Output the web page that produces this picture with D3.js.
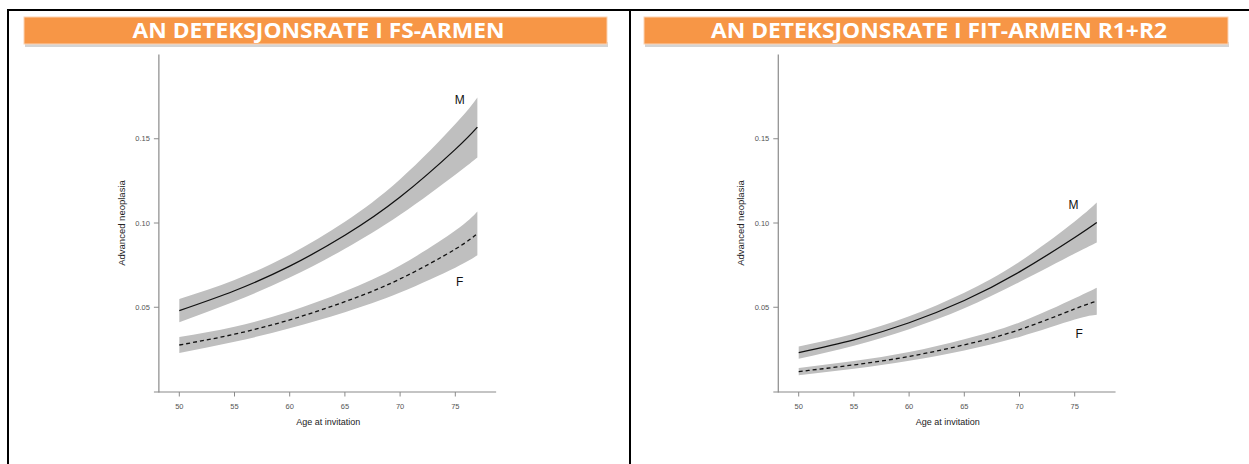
<!DOCTYPE html>
<html>
<head>
<meta charset="utf-8">
<script src="https://cdn.jsdelivr.net/npm/d3@7"></script>
<style>
  body { margin: 0; background: #fff; }
  svg { display: block; }
</style>
</head>
<body>
<script>
const WIDTH = 1249;
const HEIGHT = 464;

// ages
const ages = [50, 55, 60, 65, 70, 75, 77];
const xTicks = [50, 55, 60, 65, 70, 75];
const yTicks = [0.05, 0.10, 0.15];

// FS arm
const fsMale   = [0.0480, 0.0598, 0.0744, 0.0927, 0.1154, 0.1437, 0.1569];
const fsMaleLo = [0.0411, 0.0534, 0.0676, 0.0847, 0.1049, 0.1287, 0.1389];
const fsMaleHi = [0.0549, 0.0662, 0.0812, 0.1007, 0.1259, 0.1587, 0.1745];
const fsFem    = [0.0276, 0.0340, 0.0425, 0.0533, 0.0668, 0.0845, 0.0938];
const fsFemLo  = [0.0229, 0.0295, 0.0375, 0.0471, 0.0588, 0.0735, 0.0808];
const fsFemHi  = [0.0323, 0.0385, 0.0475, 0.0595, 0.0748, 0.0955, 0.1068];

// FIT arm R1+R2
const fitMale   = [0.0231, 0.0307, 0.0408, 0.0540, 0.0710, 0.0914, 0.1003];
const fitMaleLo = [0.0195, 0.0272, 0.0370, 0.0494, 0.0650, 0.0819, 0.0885];
const fitMaleHi = [0.0267, 0.0342, 0.0446, 0.0586, 0.0770, 0.1009, 0.1121];
const fitFem    = [0.0118, 0.0158, 0.0208, 0.0277, 0.0367, 0.0490, 0.0536];
const fitFemLo  = [0.0096, 0.0135, 0.0182, 0.0244, 0.0324, 0.0427, 0.0456];
const fitFemHi  = [0.0140, 0.0181, 0.0234, 0.0310, 0.0410, 0.0553, 0.0616];

const titles = ['AN DETEKSJONSRATE I FS-ARMEN', 'AN DETEKSJONSRATE I FIT-ARMEN R1+R2'];
// label anchors [age, value] for M and F
const fsLabels  = [[75.4, 0.173], [75.4, 0.065]];
const fitLabels = [[74.9, 0.111], [75.4, 0.0343]];

const svg = d3.select('body')
  .append('svg')
  .attr('width', WIDTH)
  .attr('height', HEIGHT);

// table lines
svg.append('line').attr('x1', 8).attr('x2', WIDTH).attr('y1', 10).attr('y2', 10)
  .attr('stroke', '#000').attr('stroke-width', 2);
svg.append('line').attr('x1', 8).attr('x2', 8).attr('y1', 9).attr('y2', HEIGHT)
  .attr('stroke', '#000').attr('stroke-width', 2);
svg.append('line').attr('x1', 630).attr('x2', 630).attr('y1', 9).attr('y2', HEIGHT)
  .attr('stroke', '#000').attr('stroke-width', 2);

function banner(x0, x1, title, textW) {
  let g = svg.append('g');
  g.append('rect').attr('x', x0 + 1).attr('y', 42).attr('width', x1 - x0).attr('height', 5)
    .attr('fill', '#d4d4d4');
  g.append('rect').attr('x', x0).attr('y', 17).attr('width', x1 - x0).attr('height', 27)
    .attr('fill', '#f79646').attr('stroke', '#fbd3b4').attr('stroke-width', 1);
  g.append('text')
    .attr('x', (x0 + x1) / 2 + 3)
    .attr('y', 38)
    .attr('text-anchor', 'middle')
    .attr('font-family', '"Open Sans", Lato, sans-serif')
    .attr('font-weight', 'bold')
    .attr('font-size', '21px')
    .attr('fill', '#fff')
    .attr('textLength', textW)
    .attr('lengthAdjust', 'spacingAndGlyphs')
    .text(title);
}

banner(24, 607, titles[0], 372);
banner(644, 1228, titles[1], 456);

function panel(x50, male, maleLo, maleHi, fem, femLo, femHi, labels) {
  let xScale = d3.scaleLinear().domain([50, 75]).range([x50, x50 + 276]);
  let yScale = d3.scaleLinear().domain([0, 0.2]).range([391.5, 54.5]);
  let g = svg.append('g');
  const axisCol = '#8a8a8a';
  const font = '"Liberation Sans", Arial, sans-serif';

  let area = d3.area()
    .x((d) => xScale(d.age))
    .y0((d) => yScale(d.lo))
    .y1((d) => yScale(d.hi))
    .curve(d3.curveNatural);
  let line = d3.line()
    .x((d) => xScale(d.age))
    .y((d) => yScale(d.v))
    .curve(d3.curveNatural);

  let series = [
    { v: male, lo: maleLo, hi: maleHi, dash: null },
    { v: fem, lo: femLo, hi: femHi, dash: '4,3' }
  ];
  series.forEach((s) => {
    let rows = ages.map((a, i) => ({ age: a, v: s.v[i], lo: s.lo[i], hi: s.hi[i] }));
    g.append('path').datum(rows).attr('d', area).attr('fill', '#bfbfbf');
    g.append('path').datum(rows).attr('d', line)
      .attr('fill', 'none').attr('stroke', '#111').attr('stroke-width', 1.3)
      .attr('stroke-dasharray', s.dash);
  });

  // axes (R style)
  let yAxisX = xScale(48.15);
  g.append('line').attr('x1', yAxisX).attr('x2', yAxisX)
    .attr('y1', yScale(0.2)).attr('y2', yScale(0) + 1)
    .attr('stroke', axisCol).attr('stroke-width', 1.2);
  g.append('line').attr('x1', xScale(47.7)).attr('x2', xScale(78.7))
    .attr('y1', yScale(0) + 0.5).attr('y2', yScale(0) + 0.5)
    .attr('stroke', axisCol).attr('stroke-width', 1.2);

  g.selectAll('.xt').data(xTicks).enter().append('line')
    .attr('x1', (d) => xScale(d)).attr('x2', (d) => xScale(d))
    .attr('y1', yScale(0) + 0.5).attr('y2', yScale(0) + 5)
    .attr('stroke', axisCol);
  g.selectAll('.xl').data(xTicks).enter().append('text')
    .text((d) => d)
    .attr('x', (d) => xScale(d)).attr('y', 409)
    .attr('text-anchor', 'middle')
    .attr('font-family', font).attr('font-size', '7.5px').attr('fill', '#555');

  g.selectAll('.yt').data(yTicks).enter().append('line')
    .attr('x1', yAxisX - 5).attr('x2', yAxisX)
    .attr('y1', (d) => yScale(d)).attr('y2', (d) => yScale(d))
    .attr('stroke', axisCol);
  g.selectAll('.yl').data(yTicks).enter().append('text')
    .text((d) => d.toFixed(2))
    .attr('x', yAxisX - 9).attr('y', (d) => yScale(d) + 2.5)
    .attr('text-anchor', 'end')
    .attr('font-family', font).attr('font-size', '7.5px').attr('fill', '#555');

  g.append('text').text('Age at invitation')
    .attr('x', xScale(63.5)).attr('y', 425)
    .attr('text-anchor', 'middle')
    .attr('font-family', font).attr('font-size', '9px').attr('fill', '#222');
  g.append('text').text('Advanced neoplasia')
    .attr('transform', 'translate(' + (yAxisX - 34) + ',' + yScale(0.1) + ') rotate(-90)')
    .attr('text-anchor', 'middle')
    .attr('font-family', font).attr('font-size', '9.5px').attr('fill', '#222');

  ['M', 'F'].forEach((t, i) => {
    g.append('text').text(t)
      .attr('x', xScale(labels[i][0])).attr('y', yScale(labels[i][1]) + 4.5)
      .attr('text-anchor', 'middle')
      .attr('font-family', font).attr('font-size', '12px').attr('fill', '#111');
  });
}

panel(179.3, fsMale, fsMaleLo, fsMaleHi, fsFem, fsFemLo, fsFemHi, fsLabels);
panel(798.7, fitMale, fitMaleLo, fitMaleHi, fitFem, fitFemLo, fitFemHi, fitLabels);
</script>
</body>
</html>
